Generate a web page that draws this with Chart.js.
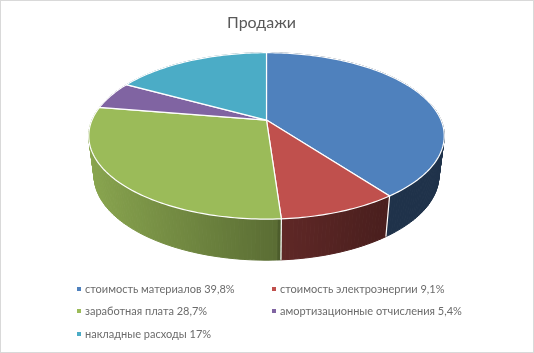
<!DOCTYPE html>
<html lang="ru">
<head>
<meta charset="utf-8">
<title>Продажи</title>
<script src="https://cdn.jsdelivr.net/npm/chart.js@4"></script>
<style>
    html, body { margin: 0; padding: 0; background: #fff; }
    canvas { display: block; outline: 1px solid #d9d9d9; outline-offset: -1px; }
</style>
</head>
<body>
<canvas id="salesChart" width="534" height="353"></canvas>
<script>
const chartTitle = "Продажи";
const categories = ["стоимость материалов", "стоимость электроэнергии", "заработная плата", "амортизационные отчисления", "накладные расходы"];
const shares = [39.8, 9.1, 28.7, 5.4, 17];
const colors = ["#4f81bd", "#c0504d", "#9bbb59", "#8064a2", "#4bacc6"];

// projection of the flat pie to the tilted disc of the 3D look
const view = { shiftX: 5, kx: 2.08, ky: 0.956, tilt: 0.19, bottomScale: 0.97, bottomKy: 0.97, depth: 39.6 };
const legendSlots = [[77, 289], [272, 289], [77, 311], [272, 311], [77, 334]];

function rimPoint(el, angle, lower) {
    const x = Math.cos(angle), y = Math.sin(angle);
    const w = 1 - view.tilt * y;
    const s = lower ? view.bottomScale : 1;
    const ky = lower ? view.bottomKy : view.ky;
    return [
        el.x + view.shiftX + s * view.kx * el.outerRadius * x / w,
        el.y + (lower ? view.depth : 0) + ky * el.outerRadius * y / w
    ];
}

// side wall gets darker to the right, with a step at the green/red seam
function shade(hex, px) {
    const f = px < 281 ? 0.88 - (px - 90) * 0.00158 : Math.max(0.39, 0.5 - (px - 281) * 0.0011);
    const n = parseInt(hex.slice(1), 16);
    return `rgb(${Math.round((n >> 16) * f)},${Math.round(((n >> 8) & 255) * f)},${Math.round((n & 255) * f)})`;
}

const tiltedPie = {
    id: "tiltedPie",
    beforeDatasetsDraw(chart) {
        const ctx = chart.ctx;
        const arcs = chart.getDatasetMeta(0).data;
        const strips = [];
        arcs.forEach((el, i) => {
            const steps = Math.ceil((el.endAngle - el.startAngle) / 0.02);
            for (let k = 0; k < steps; k++) {
                const a = el.startAngle + (el.endAngle - el.startAngle) * k / steps;
                const b = el.startAngle + (el.endAngle - el.startAngle) * (k + 1) / steps;
                strips.push({ el, i, a, b });
            }
        });
        strips.sort((p, q) => Math.sin(p.a) - Math.sin(q.a));
        ctx.save();
        ctx.lineWidth = 1;
        strips.forEach(({ el, i, a, b }) => {
            const p1 = rimPoint(el, a), p2 = rimPoint(el, b), p3 = rimPoint(el, b, true), p4 = rimPoint(el, a, true);
            ctx.beginPath();
            ctx.moveTo(...p1);
            ctx.lineTo(...p2);
            ctx.lineTo(...p3);
            ctx.lineTo(...p4);
            ctx.closePath();
            ctx.fillStyle = ctx.strokeStyle = shade(colors[i], p1[0]);
            ctx.fill();
            ctx.stroke();
        });

        // seams on the side wall
        ctx.strokeStyle = "#fff";
        ctx.lineWidth = 1.2;
        arcs.forEach(el => {
            if (Math.sin(el.endAngle) > 0) {
                ctx.beginPath();
                ctx.moveTo(...rimPoint(el, el.endAngle));
                ctx.lineTo(...rimPoint(el, el.endAngle, true));
                ctx.stroke();
            }
        });

        arcs.forEach((el, i) => {
            const steps = Math.ceil((el.endAngle - el.startAngle) / 0.02);
            ctx.beginPath();
            ctx.moveTo(el.x + view.shiftX, el.y);
            for (let k = 0; k <= steps; k++) {
                ctx.lineTo(...rimPoint(el, el.startAngle + (el.endAngle - el.startAngle) * k / steps));
            }
            ctx.closePath();
            ctx.fillStyle = colors[i];
            ctx.fill();
            ctx.stroke();
        });
        ctx.restore();
        return false;
    },
    afterDraw(chart) {
        const ctx = chart.ctx;
        ctx.save();
        ctx.font = "11px Lato";
        ctx.textBaseline = "middle";
        chart.data.labels.forEach((label, i) => {
            const [x, y] = legendSlots[i];
            ctx.fillStyle = colors[i];
            ctx.fillRect(x, y - 2, 4, 4);
            ctx.fillStyle = "#6b6b6b";
            ctx.fillText(label + " " + String(shares[i]).replace(".", ",") + "%", x + 8, y);
        });
        ctx.restore();
    }
};

new Chart(document.getElementById("salesChart"), {
    type: "pie",
    data: {
        labels: categories,
        datasets: [{ data: shares, backgroundColor: colors, borderColor: "#fff", borderWidth: 0 }]
    },
    options: {
        responsive: false,
        animation: false,
        layout: { padding: { left: 0, right: 11, top: 0, bottom: 149 } },
        plugins: {
            legend: { display: false },
            tooltip: { enabled: false },
            title: {
                display: true,
                text: chartTitle,
                color: "#595959",
                font: { family: "Lato", size: 16, weight: "normal" },
                padding: { top: 13, bottom: 4 }
            }
        }
    },
    plugins: [tiltedPie]
});
</script>
</body>
</html>
